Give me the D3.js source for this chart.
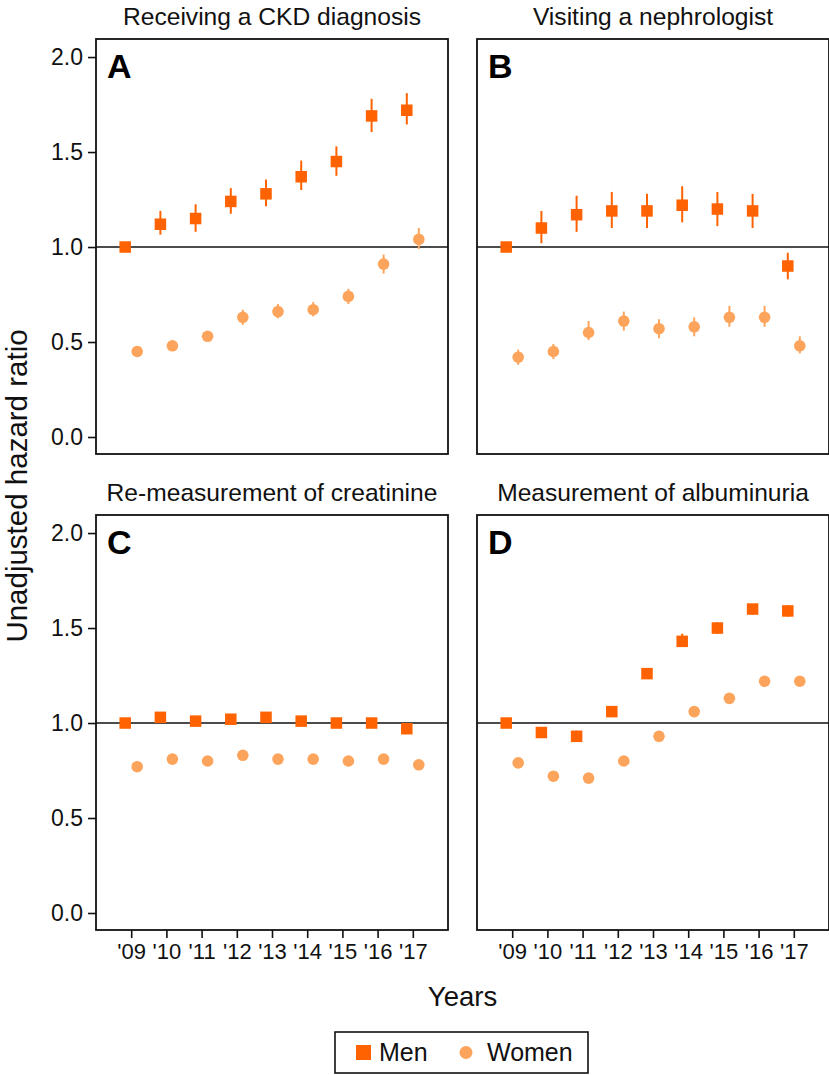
<!DOCTYPE html>
<html>
<head>
<meta charset="utf-8">
<script src="https://cdn.jsdelivr.net/npm/d3@7"></script>
<style>
  html, body { margin: 0; padding: 0; background: #fff; }
  svg { display: block; font-family: "Liberation Sans", Arial, Helvetica, sans-serif; }
</style>
</head>
<body>
<svg id="chart" width="829" height="1075"></svg>
<script>
// ---- data ----
const years = ["'09", "'10", "'11", "'12", "'13", "'14", "'15", "'16", "'17"];
const yTicks = [0.0, 0.5, 1.0, 1.5, 2.0];
const panelTitles = ["Receiving a CKD diagnosis", "Visiting a nephrologist", "Re-measurement of creatinine", "Measurement of albuminuria"];
const panelLetters = ["A", "B", "C", "D"];
const seriesNames = ["Men", "Women"];

// Panel A
const menA      = [1.00, 1.12, 1.15, 1.24, 1.28, 1.37, 1.45, 1.69, 1.72];
const menALo    = [1.00, 1.065, 1.08, 1.175, 1.215, 1.30, 1.375, 1.605, 1.645];
const menAHi    = [1.00, 1.19, 1.225, 1.31, 1.355, 1.455, 1.53, 1.78, 1.81];
const womenA    = [0.45, 0.48, 0.53, 0.63, 0.66, 0.67, 0.74, 0.91, 1.04];
const womenALo  = [0.44, 0.47, 0.515, 0.59, 0.625, 0.635, 0.70, 0.86, 0.99];
const womenAHi  = [0.46, 0.49, 0.545, 0.67, 0.70, 0.71, 0.78, 0.96, 1.10];
// Panel B
const menB      = [1.00, 1.10, 1.17, 1.19, 1.19, 1.22, 1.20, 1.19, 0.90];
const menBLo    = [1.00, 1.02, 1.08, 1.10, 1.10, 1.13, 1.11, 1.10, 0.83];
const menBHi    = [1.00, 1.19, 1.27, 1.29, 1.28, 1.32, 1.29, 1.28, 0.97];
const womenB    = [0.42, 0.45, 0.55, 0.61, 0.57, 0.58, 0.63, 0.63, 0.48];
const womenBLo  = [0.38, 0.41, 0.51, 0.56, 0.52, 0.53, 0.58, 0.58, 0.44];
const womenBHi  = [0.46, 0.49, 0.61, 0.66, 0.62, 0.63, 0.69, 0.69, 0.53];
// Panel C
const menC      = [1.00, 1.03, 1.01, 1.02, 1.03, 1.01, 1.00, 1.00, 0.97];
const menCLo    = [1.00, 1.02, 1.00, 1.01, 1.02, 1.00, 0.99, 0.99, 0.96];
const menCHi    = [1.00, 1.04, 1.02, 1.03, 1.04, 1.02, 1.01, 1.01, 0.98];
const womenC    = [0.77, 0.81, 0.80, 0.83, 0.81, 0.81, 0.80, 0.81, 0.78];
const womenCLo  = [0.76, 0.80, 0.79, 0.82, 0.80, 0.80, 0.79, 0.80, 0.77];
const womenCHi  = [0.78, 0.82, 0.81, 0.84, 0.82, 0.82, 0.81, 0.82, 0.79];
// Panel D
const menD      = [1.00, 0.95, 0.93, 1.06, 1.26, 1.43, 1.50, 1.60, 1.59];
const menDLo    = [1.00, 0.94, 0.90, 1.05, 1.25, 1.40, 1.47, 1.57, 1.56];
const menDHi    = [1.00, 0.96, 0.96, 1.07, 1.27, 1.47, 1.53, 1.62, 1.62];
const womenD    = [0.79, 0.72, 0.71, 0.80, 0.93, 1.06, 1.13, 1.22, 1.22];
const womenDLo  = [0.78, 0.71, 0.70, 0.79, 0.92, 1.05, 1.12, 1.21, 1.21];
const womenDHi  = [0.80, 0.73, 0.72, 0.81, 0.94, 1.07, 1.14, 1.23, 1.23];

const panelData = [
  { men: [menA, menALo, menAHi], women: [womenA, womenALo, womenAHi] },
  { men: [menB, menBLo, menBHi], women: [womenB, womenBLo, womenBHi] },
  { men: [menC, menCLo, menCHi], women: [womenC, womenCLo, womenCHi] },
  { men: [menD, menDLo, menDHi], women: [womenD, womenDLo, womenDHi] }
];

// ---- layout ----
const colors = { Men: "#ff6200", Women: "#fda45c" };
const panelW = 352, panelH = 415;
const colX = [96, 477];
const rowY = [39, 515];
const dodge = 6;

const svg = d3.select("#chart");

const x = d3.scalePoint().domain(years).range([0, panelW]).padding(1);
const y = d3.scaleLinear().domain([-0.0895, 2.095]).range([panelH, 0]);

panelData.forEach((pd, i) => {
  const col = i % 2, row = Math.floor(i / 2);
  const g = svg.append("g").attr("transform", `translate(${colX[col]},${rowY[row]})`);

  // title
  g.append("text")
    .attr("x", panelW / 2).attr("y", -14)
    .attr("text-anchor", "middle")
    .attr("font-size", 24.6)
    .attr("fill", "#111")
    .text(panelTitles[i]);

  // reference line at 1
  g.append("line")
    .attr("x1", 0).attr("x2", panelW)
    .attr("y1", y(1)).attr("y2", y(1))
    .attr("stroke", "#111").attr("stroke-width", 1.6);

  // series
  const series = [
    { name: "Men", vals: pd.men, off: -dodge },
    { name: "Women", vals: pd.women, off: dodge }
  ];
  series.forEach(s => {
    const pts = years.map((yr, j) => ({ yr, v: s.vals[0][j], lo: s.vals[1][j], hi: s.vals[2][j] }));
    const sg = g.append("g");
    sg.selectAll("line.err").data(pts).join("line")
      .attr("class", "err")
      .attr("x1", d => x(d.yr) + s.off).attr("x2", d => x(d.yr) + s.off)
      .attr("y1", d => y(d.lo)).attr("y2", d => y(d.hi))
      .attr("stroke", colors[s.name]).attr("stroke-width", 2);
    if (s.name === "Men") {
      const sz = 11.5;
      sg.selectAll("rect").data(pts).join("rect")
        .attr("x", d => x(d.yr) + s.off - sz / 2)
        .attr("y", d => y(d.v) - sz / 2)
        .attr("width", sz).attr("height", sz)
        .attr("fill", colors.Men);
    } else {
      sg.selectAll("circle").data(pts).join("circle")
        .attr("cx", d => x(d.yr) + s.off)
        .attr("cy", d => y(d.v))
        .attr("r", 5.8)
        .attr("fill", colors.Women);
    }
  });

  // frame
  g.append("rect")
    .attr("x", 0).attr("y", 0).attr("width", panelW).attr("height", panelH)
    .attr("fill", "none").attr("stroke", "#111").attr("stroke-width", 1.8);

  // panel letter
  g.append("text")
    .attr("x", 11).attr("y", 39)
    .attr("font-size", 34).attr("font-weight", "bold")
    .attr("fill", "#000")
    .text(panelLetters[i]);

  // y axis on left panels
  if (col === 0) {
    const ya = g.append("g").call(d3.axisLeft(y).tickValues(yTicks).tickFormat(d3.format(".1f")).tickSize(8).tickPadding(5));
    ya.select(".domain").remove();
    ya.selectAll(".tick line").attr("stroke", "#111").attr("stroke-width", 1.6);
    ya.selectAll(".tick text").attr("font-size", 23).attr("fill", "#111").attr("font-family", null);
  }
  // x axis on bottom panels
  if (row === 1) {
    const xa = g.append("g").attr("transform", `translate(0,${panelH})`)
      .call(d3.axisBottom(x).tickSize(8).tickPadding(5));
    xa.select(".domain").remove();
    xa.selectAll(".tick line").attr("stroke", "#111").attr("stroke-width", 1.6);
    xa.selectAll(".tick text").attr("font-size", 22).attr("fill", "#111").attr("font-family", null);
  }
});

// axis titles
svg.append("text")
  .attr("transform", `translate(27,486) rotate(-90)`)
  .attr("text-anchor", "middle")
  .attr("font-size", 29.5)
  .attr("fill", "#111")
  .text("Unadjusted hazard ratio");

svg.append("text")
  .attr("x", (colX[0] + colX[1] + panelW) / 2).attr("y", 1006)
  .attr("text-anchor", "middle")
  .attr("font-size", 27.5)
  .attr("fill", "#111")
  .text("Years");

// legend
const lg = svg.append("g");
lg.append("rect").attr("x", 335).attr("y", 1032).attr("width", 253).attr("height", 41)
  .attr("fill", "#fff").attr("stroke", "#111").attr("stroke-width", 1.6);
const legendItems = [
  { name: seriesNames[0], mx: 363.5, tx: 379 },
  { name: seriesNames[1], mx: 466, tx: 487 }
];
legendItems.forEach(it => {
  if (it.name === "Men") {
    lg.append("rect").attr("x", it.mx - 7.5).attr("y", 1045).attr("width", 15).attr("height", 15).attr("fill", colors.Men);
  } else {
    lg.append("circle").attr("cx", it.mx).attr("cy", 1052.5).attr("r", 6.5).attr("fill", colors.Women);
  }
  lg.append("text").attr("x", it.tx).attr("y", 1061).attr("font-size", 25).attr("fill", "#111").text(it.name);
});
</script>
</body>
</html>
